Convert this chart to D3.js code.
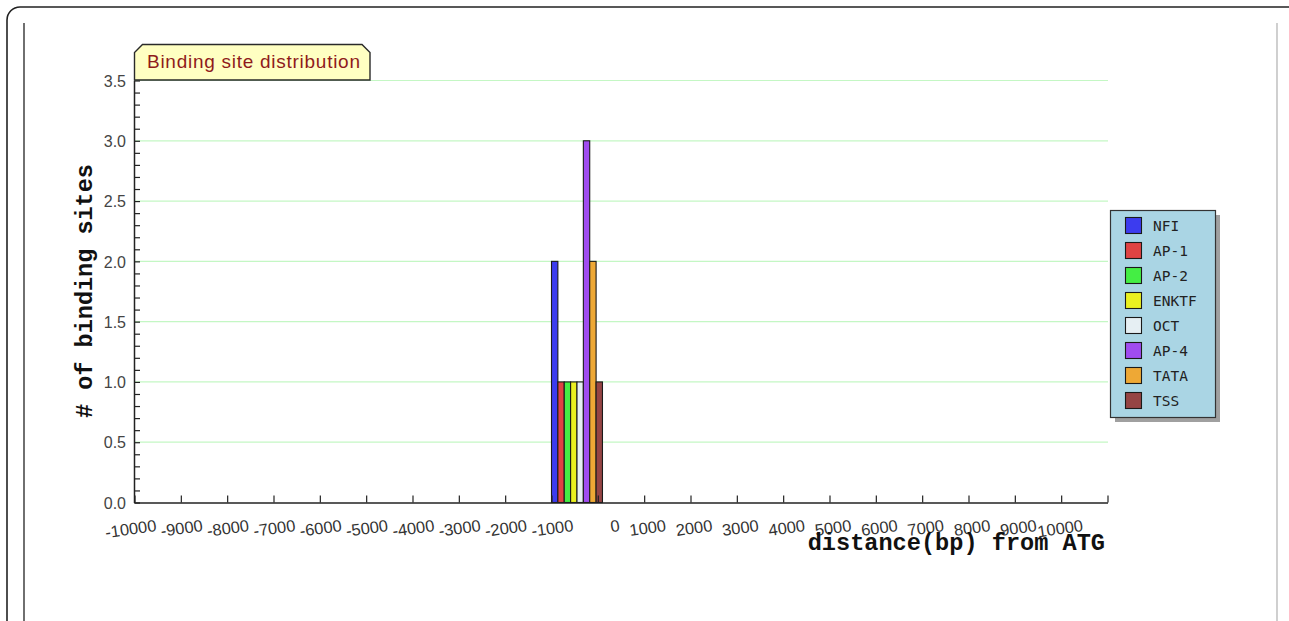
<!DOCTYPE html>
<html>
<head>
<meta charset="utf-8">
<script src="https://cdn.jsdelivr.net/npm/d3@7/dist/d3.min.js"></script>
<style>
  html, body { margin: 0; padding: 0; background: #ffffff; }
  svg { display: block; }
</style>
</head>
<body>
<svg id="chart" width="1289" height="621"></svg>
<script>
// ---- data ----
const categories = ["NFI", "AP-1", "AP-2", "ENKTF", "OCT", "AP-4", "TATA", "TSS"];
const siteCounts = [2, 1, 1, 1, 1, 3, 2, 1];
const seriesColors = ["#3c3cef", "#df4343", "#44ee44", "#eaf020", "#e6eff3", "#a04cf0", "#eea835", "#954444"];
const binStarts = [-1000];          // distance bin (bp) holding the sites
const binEnds = [100];
const xTickLabels = [-10000, -9000, -8000, -7000, -6000, -5000, -4000, -3000, -2000, -1000,
                     0, 1000, 2000, 3000, 4000, 5000, 6000, 7000, 8000, 9000, 10000];
const yTickLabels = [0.0, 0.5, 1.0, 1.5, 2.0, 2.5, 3.0, 3.5];
const chartTitle = "Binding site distribution";
const xTitle = "distance(bp) from ATG";
const yTitle = "# of binding sites";

// ---- layout ----
const svg = d3.select("#chart");
const plot = { left: 134, right: 1107, top: 80, bottom: 502 };

const x = d3.scaleLinear().domain([-10000, 11000]).range([plot.left, plot.right]);
const y = d3.scaleLinear().domain([0, 3.5]).range([plot.bottom, plot.top]);

// outer frame
svg.append("rect")
  .attr("x", 7).attr("y", 7).attr("width", 1300).attr("height", 700)
  .attr("rx", 13).attr("ry", 13)
  .attr("fill", "none").attr("stroke", "#222").attr("stroke-width", 1.6);
svg.append("line").attr("x1", 24).attr("x2", 24).attr("y1", 23).attr("y2", 621)
  .attr("stroke", "#333").attr("stroke-width", 1.4);
svg.append("line").attr("x1", 1277).attr("x2", 1277).attr("y1", 23).attr("y2", 621)
  .attr("stroke", "#b0b0b0").attr("stroke-width", 1.2);

// grid lines
svg.append("g").selectAll("line").data(yTickLabels.filter(d => d > 0)).join("line")
  .attr("x1", plot.left).attr("x2", plot.right + 1)
  .attr("y1", d => y(d) + 0.5).attr("y2", d => y(d) + 0.5)
  .attr("stroke", "#c4f7c4").attr("stroke-width", 1.2);

// bars
const bins = binStarts.map((s, i) => ({ start: s, end: binEnds[i] }));
bins.forEach(bin => {
  const band = d3.scaleBand().domain(categories)
    .range([x(bin.start), x(bin.end)]).padding(0);
  svg.append("g").selectAll("rect").data(categories).join("rect")
    .attr("x", d => band(d) + 0.5)
    .attr("y", (d, i) => y(siteCounts[i]) + 0.5)
    .attr("width", band.bandwidth())
    .attr("height", (d, i) => y(0) - y(siteCounts[i]))
    .attr("fill", (d, i) => seriesColors[i])
    .attr("stroke", "#1a1a1a").attr("stroke-width", 1.1);
});

// y axis
const yMinor = d3.range(0, 36).map(v => v / 10);
const yAxis = d3.axisLeft(y)
  .tickValues(yMinor)
  .tickSizeInner(-6).tickSizeOuter(0).tickPadding(8)
  .tickFormat(d => yTickLabels.some(t => Math.abs(t - d) < 1e-9) ? d3.format(".1f")(d) : "");
const gy = svg.append("g").attr("transform", `translate(${plot.left},0.5)`).call(yAxis);
gy.select(".domain").attr("stroke", "#222").attr("stroke-width", 1.5);
gy.selectAll(".tick line").attr("stroke", "#222").attr("stroke-width", 1.2);
gy.selectAll(".tick text")
  .attr("font-family", "Liberation Sans, Arial, sans-serif")
  .attr("font-size", 16).attr("fill", "#444").attr("dy", "0.36em");

// x axis
const xTickVals = xTickLabels.concat([11000]);
const xAxis = d3.axisBottom(x)
  .tickValues(xTickVals)
  .tickSizeInner(-7).tickSizeOuter(0)
  .tickFormat("");
const gx = svg.append("g").attr("transform", `translate(0.5,${plot.bottom + 0.5})`).call(xAxis);
gx.select(".domain").attr("stroke", "#222").attr("stroke-width", 1.5);
gx.selectAll(".tick line").attr("stroke", "#222").attr("stroke-width", 1.2);

// x tick labels (slanted)
svg.append("g").selectAll("text").data(xTickLabels).join("text")
  .attr("transform", d => `translate(${x(d) + 23},531) rotate(-8)`)
  .attr("text-anchor", "end")
  .attr("font-family", "Liberation Sans, Arial, sans-serif")
  .attr("font-size", 16.5).attr("fill", "#333")
  .text(d => String(d));

// axis titles
svg.append("text")
  .attr("x", 1105).attr("y", 550)
  .attr("text-anchor", "end")
  .attr("font-family", "Liberation Mono, Courier New, monospace")
  .attr("font-weight", "bold")
  .attr("font-size", 23.6).attr("fill", "#111")
  .text(xTitle);
svg.append("text")
  .attr("transform", "translate(92,291) rotate(-90)")
  .attr("text-anchor", "middle")
  .attr("font-family", "Liberation Mono, Courier New, monospace")
  .attr("font-weight", "bold")
  .attr("font-size", 23.5).attr("fill", "#111")
  .text(yTitle);

// title tab
const tb = { x0: 134.5, x1: 370, y0: 44.5, y1: 80, c: 8 };
svg.append("path")
  .attr("d", `M${tb.x0},${tb.y1} L${tb.x0},${tb.y0 + tb.c} L${tb.x0 + tb.c},${tb.y0} L${tb.x1 - tb.c},${tb.y0} L${tb.x1},${tb.y0 + tb.c} L${tb.x1},${tb.y1} Z`)
  .attr("fill", "#ffffc2").attr("stroke", "#2a2a2a").attr("stroke-width", 1.4);
svg.append("text")
  .attr("x", 147).attr("y", 68)
  .attr("font-family", "Liberation Sans, Arial, sans-serif")
  .attr("font-size", 19).attr("fill", "#8f1b1b")
  .attr("textLength", 213).attr("lengthAdjust", "spacing")
  .text(chartTitle);

// legend
const lg = { x: 1110, y: 210, w: 105, h: 207 };
svg.append("rect").attr("x", lg.x + 5).attr("y", lg.y + 5).attr("width", lg.w).attr("height", lg.h)
  .attr("fill", "#a0a0a0");
svg.append("rect").attr("x", lg.x + 0.5).attr("y", lg.y + 0.5).attr("width", lg.w).attr("height", lg.h)
  .attr("fill", "#aad5e4").attr("stroke", "#333").attr("stroke-width", 1.2);
const items = svg.append("g").selectAll("g").data(categories).join("g")
  .attr("transform", (d, i) => `translate(${lg.x + 15},${lg.y + 7 + i * 25})`);
items.append("rect")
  .attr("x", 0.5).attr("y", 0.5).attr("width", 16).attr("height", 16)
  .attr("fill", (d, i) => seriesColors[i]).attr("stroke", "#1a1a1a").attr("stroke-width", 1.1);
items.append("text")
  .attr("x", 28).attr("y", 14)
  .attr("font-family", "DejaVu Sans Mono, monospace")
  .attr("font-size", 14.5).attr("fill", "#222")
  .text(d => d);
</script>
</body>
</html>
